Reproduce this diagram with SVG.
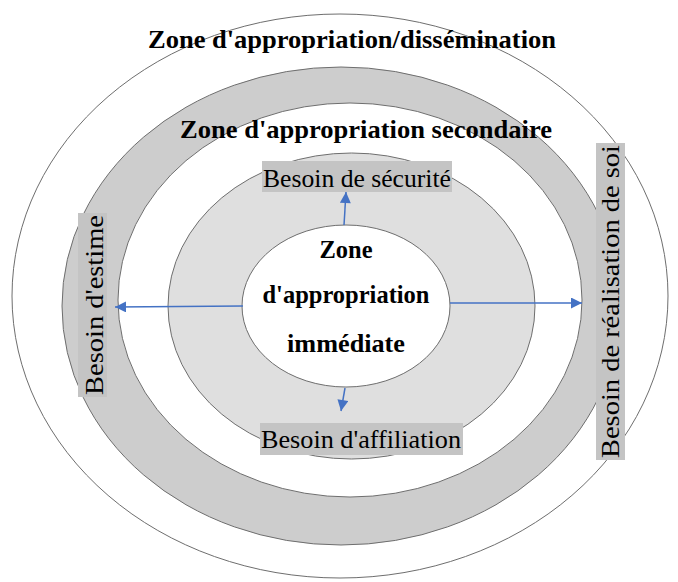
<svg xmlns="http://www.w3.org/2000/svg" width="678" height="582" viewBox="0 0 678 582">
  <defs>
    <style>
      text { font-family: 'Liberation Serif', 'Times New Roman', serif; fill: #000; text-anchor: middle; }
      .zone { stroke: #6e6e6e; stroke-width: 1; }
      .title { font-weight: bold; font-size: 26px; }
      .center { font-weight: bold; font-size: 25px; }
      .lbl { font-size: 25px; }
      .box { fill: #c4c4c4; stroke: none; }
      .arrow { stroke: #4472c4; stroke-width: 1.5; fill: none; marker-end: url(#ah); }
    </style>
    <marker id="ah" viewBox="0 0 10 10" refX="10" refY="5" markerWidth="12" markerHeight="11" markerUnits="userSpaceOnUse" orient="auto">
      <path d="M0,0 L10,5 L0,10 z" fill="#4472c4"/>
    </marker>
  </defs>

  <rect width="678" height="582" fill="#ffffff"/>

  <g id="zone-dissemination">
    <ellipse class="zone" cx="340" cy="296" rx="328" ry="282" fill="#ffffff"/>
    <text class="title" x="352" y="48" textLength="408" lengthAdjust="spacingAndGlyphs">Zone d'appropriation/dissémination</text>
  </g>

  <g id="zone-secondaire">
    <ellipse class="zone" cx="341" cy="306" rx="279" ry="239" fill="#cdcdcd"/>
    <ellipse class="zone" cx="350" cy="300" rx="232" ry="197" fill="#ffffff"/>
    <text class="title" x="366" y="138" textLength="372" lengthAdjust="spacingAndGlyphs">Zone d'appropriation secondaire</text>
  </g>

  <g id="zone-besoins">
    <ellipse class="zone" cx="351.5" cy="306" rx="183.5" ry="153" fill="#dfdfdf"/>
  </g>

  <g id="zone-immediate">
    <ellipse class="zone" cx="346" cy="306" rx="104" ry="81" fill="#ffffff"/>
    <text class="center" x="346" y="258" textLength="53" lengthAdjust="spacingAndGlyphs">Zone</text>
    <text class="center" x="346" y="303" textLength="167" lengthAdjust="spacingAndGlyphs">d'appropriation</text>
    <text class="center" x="346" y="352" textLength="118" lengthAdjust="spacingAndGlyphs">immédiate</text>
  </g>

  <g id="besoin-securite">
    <rect class="box" x="262" y="161" width="190" height="31"/>
    <text class="lbl" x="357" y="187" textLength="188" lengthAdjust="spacingAndGlyphs">Besoin de sécurité</text>
  </g>

  <g id="besoin-affiliation">
    <rect class="box" x="260" y="423" width="203" height="32"/>
    <text class="lbl" x="361" y="448" textLength="200" lengthAdjust="spacingAndGlyphs">Besoin d'affiliation</text>
  </g>

  <g id="besoin-estime">
    <rect class="box" x="78" y="213" width="29" height="184"/>
    <text class="lbl" transform="translate(103,305) rotate(-90)" x="0" y="0" textLength="180" lengthAdjust="spacingAndGlyphs">Besoin d'estime</text>
  </g>

  <g id="besoin-realisation">
    <rect class="box" x="596" y="143" width="29" height="317"/>
    <text class="lbl" transform="translate(619,301.5) rotate(-90)" x="0" y="0" textLength="313" lengthAdjust="spacingAndGlyphs">Besoin de réalisation de soi</text>
  </g>

  <g id="connectors">
    <line class="arrow" x1="243" y1="306" x2="115" y2="307"/>
    <line class="arrow" x1="450" y1="303" x2="582" y2="303"/>
    <line class="arrow" x1="344" y1="225" x2="346" y2="192"/>
    <line class="arrow" x1="345" y1="388" x2="341" y2="411"/>
  </g>
</svg>
